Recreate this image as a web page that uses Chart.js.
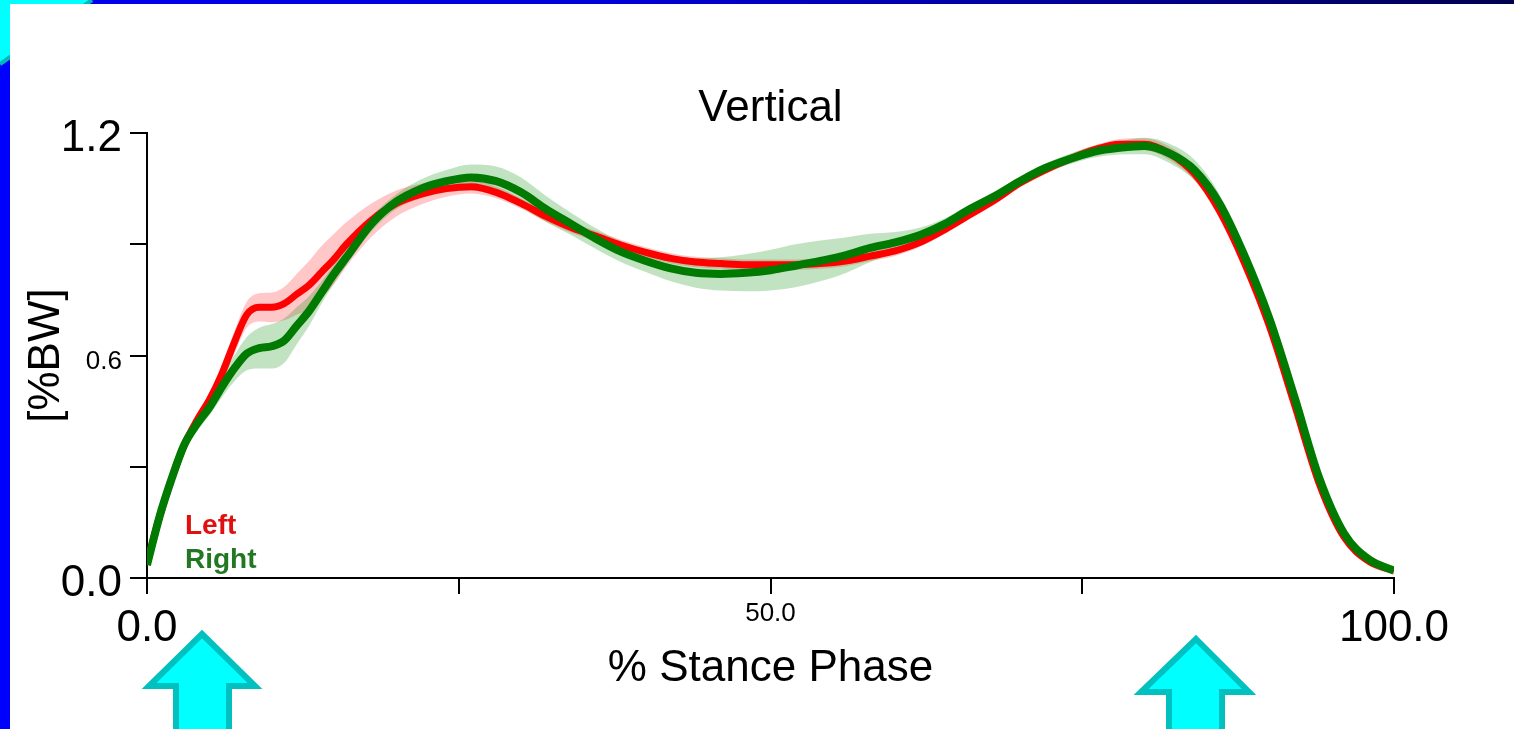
<!DOCTYPE html>
<html>
<head>
<meta charset="utf-8">
<title>Vertical</title>
<script src="https://cdn.jsdelivr.net/npm/chart.js@4.4.0/dist/chart.umd.min.js"></script>
<style>
    html, body { margin: 0; padding: 0; width: 1514px; height: 729px; overflow: hidden; }
    body { position: relative; background: #0000ff; }
    #topStrip { position: absolute; left: 0; top: 0; width: 1514px; height: 4px;
        background: linear-gradient(to right, #0000f0 0%, #0000d8 40%, #00009a 70%, #000050 100%); }
    #panel { position: absolute; left: 10px; top: 4px; right: 0; bottom: 0; background: #ffffff; }
    #deco, #arrows { position: absolute; left: 0; top: 0; }
    #chartCanvas { position: absolute; left: 0; top: 0; }
</style>
</head>
<body>
<div id="topStrip"></div>
<svg id="deco" width="1514" height="729">
    <polygon points="0,0 92,0 0,64" fill="#00ffff"/>
    <line x1="92" y1="0" x2="0" y2="64" stroke="#00b8b8" stroke-width="4"/>
</svg>
<div id="panel"></div>
<canvas id="chartCanvas" width="1514" height="729"></canvas>
<svg id="arrows" width="1514" height="729">
    <polygon points="202,634 255,686 229,686 229,740 176,740 176,686 149,686"
        fill="#00ffff" stroke="#00c0c0" stroke-width="6" stroke-linejoin="miter"/>
    <polygon points="1196,639 1249,692 1222,692 1222,740 1169,740 1169,692 1141,692"
        fill="#00ffff" stroke="#00c0c0" stroke-width="6" stroke-linejoin="miter"/>
</svg>

<script>
// Stance phase samples (% of stance)
const stancePct = [0, 1, 2, 3, 4, 5, 6, 7, 8, 9, 10, 11, 12, 13, 14, 15, 16, 18, 20, 22, 24, 26, 28, 30,
    32, 34, 36, 38, 40, 42, 44, 46, 48, 50, 52, 54, 56, 58, 60, 62, 64, 66, 68, 70, 72, 74, 76,
    78, 80, 82, 84, 86, 88, 90, 92, 94, 96, 98, 100];

// Left foot - mean vertical force [%BW]
const leftMean = [0.04, 0.165, 0.27, 0.36, 0.425, 0.48, 0.55, 0.635, 0.71, 0.73, 0.73, 0.74, 0.765, 0.79,
    0.825, 0.86, 0.90, 0.965, 1.01, 1.035, 1.05, 1.055, 1.04, 1.01, 0.975, 0.945, 0.922, 0.898, 0.878,
    0.862, 0.852, 0.848, 0.845, 0.845, 0.845, 0.848, 0.855, 0.868, 0.882, 0.905, 0.94, 0.98, 1.02, 1.065,
    1.10, 1.13, 1.155, 1.17, 1.17, 1.145, 1.09, 0.99, 0.85, 0.68, 0.47, 0.255, 0.11, 0.045, 0.02];

// Left foot - standard deviation
const leftSd = [0.012, 0.012, 0.014, 0.016, 0.018, 0.02, 0.025, 0.03, 0.035, 0.038, 0.04, 0.045, 0.055,
    0.065, 0.07, 0.068, 0.06, 0.045, 0.035, 0.028, 0.022, 0.018, 0.016, 0.014, 0.014, 0.014, 0.014,
    0.014, 0.014, 0.014, 0.014, 0.014, 0.014, 0.014, 0.014, 0.014, 0.014, 0.014, 0.014, 0.012, 0.012,
    0.012, 0.012, 0.012, 0.012, 0.012, 0.012, 0.014, 0.016, 0.018, 0.018, 0.016, 0.012, 0.012, 0.012,
    0.012, 0.012, 0.012, 0.012];

// Right foot - mean vertical force [%BW]
const rightMean = [0.035, 0.165, 0.27, 0.36, 0.415, 0.46, 0.515, 0.565, 0.605, 0.62, 0.625, 0.64, 0.68,
    0.72, 0.77, 0.82, 0.865, 0.955, 1.015, 1.05, 1.07, 1.08, 1.07, 1.04, 0.995, 0.955, 0.915, 0.88,
    0.855, 0.835, 0.823, 0.82, 0.823, 0.83, 0.842, 0.855, 0.87, 0.89, 0.905, 0.925, 0.955, 0.995, 1.03,
    1.07, 1.105, 1.13, 1.15, 1.16, 1.165, 1.145, 1.10, 1.01, 0.87, 0.70, 0.49, 0.27, 0.12, 0.05, 0.02];

// Right foot - standard deviation
const rightSd = [0.012, 0.012, 0.015, 0.018, 0.02, 0.022, 0.028, 0.035, 0.045, 0.055, 0.06, 0.06, 0.05,
    0.04, 0.03, 0.025, 0.02, 0.02, 0.02, 0.025, 0.03, 0.035, 0.04, 0.04, 0.035, 0.03, 0.028, 0.028,
    0.03, 0.035, 0.04, 0.045, 0.05, 0.055, 0.058, 0.055, 0.048, 0.038, 0.028, 0.02, 0.015, 0.012,
    0.012, 0.012, 0.012, 0.014, 0.016, 0.018, 0.022, 0.026, 0.028, 0.025, 0.018, 0.014, 0.012, 0.01,
    0.01, 0.01, 0.01];

// Axis ticks
const xTickValues = [0, 25, 50, 75, 100];
const xTickLabels = ['0.0', '', '50.0', '', '100.0'];
const yTickValues = [0, 0.3, 0.6, 0.9, 1.2];
const yTickLabels = ['0.0', '', '0.6', '', '1.2'];

// Series names
const seriesNames = ['Left', 'Right'];

const FONT = '"Liberation Sans", Arial, sans-serif';
const RED = '#ff0000';
const GREEN = '#007a00';

// mean (+/- sd) as {x, y} points
function toPoints(mean, sd = null, sign = 0) {
    return stancePct.map((x, i) => ({ x, y: mean[i] + (sd ? sign * sd[i] : 0) }));
}

// Inline "Left / Right" labels in the lower left corner of the plot
const cornerLabels = {
    id: 'cornerLabels',
    afterDatasetsDraw(chart) {
        const { ctx, chartArea } = chart;
        ctx.save();
        ctx.font = 'bold 28px ' + FONT;
        ctx.textAlign = 'left';
        ctx.textBaseline = 'alphabetic';
        ctx.fillStyle = '#e01010';
        ctx.fillText(seriesNames[0], chartArea.left + 38, chartArea.bottom - 44);
        ctx.fillStyle = '#227722';
        ctx.fillText(seriesNames[1], chartArea.left + 38, chartArea.bottom - 10);
        ctx.restore();
    }
};

const lineBase = { pointRadius: 0, tension: 0.4, cubicInterpolationMode: 'monotone' };
const bandEdge = { ...lineBase, borderWidth: 0, borderColor: 'transparent' };

const ctx = document.getElementById('chartCanvas').getContext('2d');
new Chart(ctx, {
    type: 'line',
    data: {
        datasets: [
            // SD bands first, mean lines last (drawn on top)
            { ...bandEdge, label: 'Left +SD', data: toPoints(leftMean, leftSd, 1), fill: false, order: 4 },
            { ...bandEdge, label: 'Left -SD', data: toPoints(leftMean, leftSd, -1), fill: '-1',
                backgroundColor: 'rgba(255, 0, 0, 0.22)', order: 4 },
            { ...bandEdge, label: 'Right +SD', data: toPoints(rightMean, rightSd, 1), fill: false, order: 3 },
            { ...bandEdge, label: 'Right -SD', data: toPoints(rightMean, rightSd, -1), fill: '-1',
                backgroundColor: 'rgba(0, 140, 0, 0.24)', order: 3 },
            { ...lineBase, label: seriesNames[0], data: toPoints(leftMean), borderColor: RED, borderWidth: 7, fill: false, order: 2 },
            { ...lineBase, label: seriesNames[1], data: toPoints(rightMean), borderColor: GREEN, borderWidth: 8, fill: false, order: 1 }
        ]
    },
    options: {
        responsive: false,
        animation: false,
        events: [],
        layout: { padding: { left: 0, right: 120, top: 0, bottom: 0 } },
        scales: {
            x: {
                type: 'linear',
                min: 0,
                max: 100,
                afterBuildTicks: scale => { scale.ticks = xTickValues.map(v => ({ value: v })); },
                afterFit: scale => { scale.height = 151; },
                ticks: {
                    autoSkip: false,
                    maxRotation: 0,
                    padding: 13,
                    color: '#000',
                    callback: (v, i) => xTickLabels[i],
                    font: c => (c.tick && c.tick.value === 50)
                        ? { family: FONT, size: 26, lineHeight: 0.55 }
                        : { family: FONT, size: 44, lineHeight: 1 }
                },
                grid: { drawOnChartArea: false, drawTicks: true, tickLength: 16, color: '#000', lineWidth: 2 },
                border: { display: true, color: '#000', width: 2 },
                title: {
                    display: true,
                    text: '% Stance Phase',
                    color: '#000',
                    font: { family: FONT, size: 44, lineHeight: 1 },
                    padding: { top: 0, bottom: 38 }
                }
            },
            y: {
                type: 'linear',
                min: 0,
                max: 1.2,
                afterBuildTicks: scale => { scale.ticks = yTickValues.map(v => ({ value: v })); },
                afterFit: scale => { scale.width = 147; },
                ticks: {
                    autoSkip: false,
                    padding: 8,
                    labelOffset: 6,
                    color: '#000',
                    callback: (v, i) => yTickLabels[i],
                    font: c => (c.tick && Math.abs(c.tick.value - 0.6) < 1e-6)
                        ? { family: FONT, size: 26 }
                        : { family: FONT, size: 44 }
                },
                grid: { drawOnChartArea: false, drawTicks: true, tickLength: 17, color: '#000', lineWidth: 2 },
                border: { display: true, color: '#000', width: 2 },
                title: {
                    display: true,
                    text: '[%BW]',
                    color: '#000',
                    font: { family: FONT, size: 44, lineHeight: 1 },
                    padding: { top: 25, bottom: 0 }
                }
            }
        },
        plugins: {
            legend: { display: false },
            tooltip: { enabled: false },
            filler: { drawTime: 'beforeDatasetsDraw' },
            title: {
                display: true,
                text: 'Vertical',
                fullSize: false,
                color: '#000',
                font: { family: FONT, size: 44, weight: 'normal', lineHeight: 1 },
                padding: { top: 87, bottom: 2 }
            }
        }
    },
    plugins: [cornerLabels]
});
</script>
</body>
</html>
